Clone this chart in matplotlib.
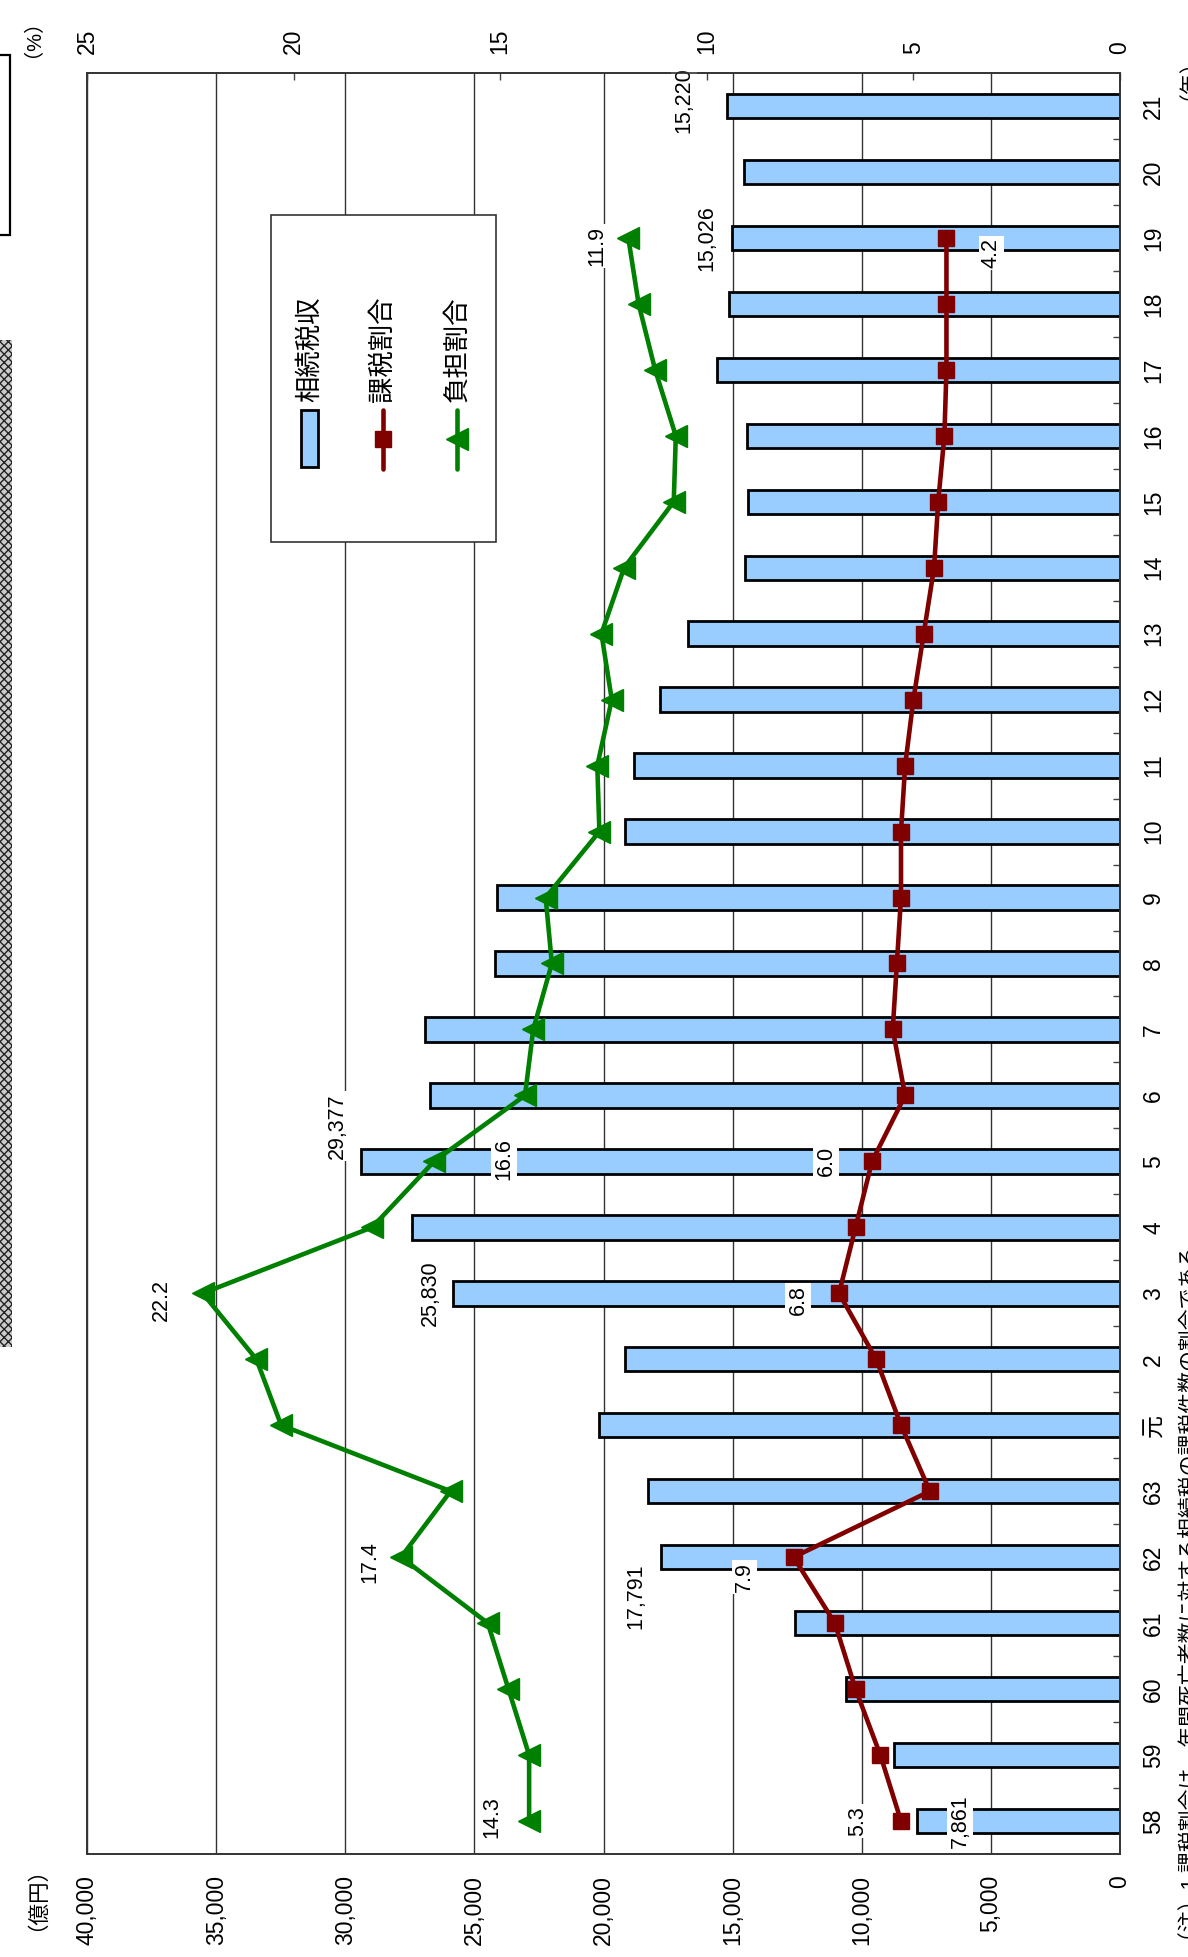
import matplotlib
matplotlib.use('Agg')
import matplotlib.pyplot as plt
from matplotlib.patches import Rectangle
from matplotlib.lines import Line2D
import numpy as np

plt.rcParams['font.family'] = ['Liberation Sans', 'Noto Sans CJK JP']
plt.rcParams['hatch.linewidth'] = 1.0

# ---------------- data ----------------
years = ['58', '59', '60', '61', '62', '63', '元', '2', '3', '4', '5', '6', '7', '8',
         '9', '10', '11', '12', '13', '14', '15', '16', '17', '18', '19', '20', '21']
tax_revenue = [7861, 8750, 10600, 12580, 17791, 18280, 20170, 19180, 25830, 27420,
               29377, 26700, 26900, 24190, 24130, 19160, 18800, 17800, 16740, 14510,
               14410, 14460, 15620, 15140, 15026, 14560, 15220]
taxable_ratio = [5.3, 5.8, 6.4, 6.9, 7.9, 4.6, 5.3, 5.9, 6.8, 6.4, 6.0, 5.2, 5.5, 5.4,
                 5.3, 5.3, 5.2, 5.0, 4.75, 4.5, 4.4, 4.25, 4.2, 4.2, 4.2]
burden_ratio = [14.3, 14.3, 14.8, 15.3, 17.4, 16.2, 20.3, 20.9, 22.2, 18.1, 16.6, 14.4,
                14.2, 13.75, 13.9, 12.6, 12.65, 12.3, 12.55, 12.0, 10.8, 10.75, 11.25,
                11.65, 11.9]
oku_ticks = [0, 5000, 10000, 15000, 20000, 25000, 30000, 35000, 40000]
pct_ticks = [0, 5, 10, 15, 20, 25]
legend_labels = ['相続税収', '課税割合', '負担割合']

# labels: (index, text, dx_px, dy_px(down))
bar_labels = [(0, '7,861', 43, 0), (4, '17,791', -25, 39), (8, '25,830', -23, 0),
              (10, '29,377', -24, -35), (24, '15,026', -25, 0), (26, '15,220', -43, -6)]
red_labels = [(0, '5.3', -43, 0), (4, '7.9', -49, 20), (8, '6.8', -41, 7),
              (10, '6.0', -46, 0), (24, '4.2', 45, 15)]
green_labels = [(0, '14.3', -37, -4), (4, '17.4', -31, 5), (8, '22.2', -41, 7),
                (10, '16.6', 70, -2), (24, '11.9', -31, 8)]

BAR_C = '#99CCFF'
RED = '#800000'
GREEN = '#008000'
TICK_FS = 16.5
LW = 3.3

W, H = 1188, 1957
fig = plt.figure(figsize=(W / 100, H / 100), dpi=100)
L, R, T, B = 87, 1120, 73, 1854
ax = fig.add_axes([L / W, 1 - B / H, (R - L) / W, (B - T) / H])

idx = np.arange(len(years))
ax.barh(idx, tax_revenue, height=0.37, color=BAR_C, edgecolor='black',
        linewidth=2.0, zorder=2)
ax.set_xlim(40000, 0)
ax.set_ylim(-0.5, len(years) - 0.5)
ax.set_xticks(oku_ticks)
ax.set_xticklabels([f'{v:,}' for v in oku_ticks], rotation=90)
ax.tick_params(axis='x', length=0, pad=15, labelsize=TICK_FS)
ax.grid(axis='x', color='#333333', linewidth=1.0)
ax.set_axisbelow(True)

ax.yaxis.tick_right()
ax.set_yticks(idx)
ax.set_yticklabels(years, rotation=90, va='center')
ax.tick_params(axis='y', which='major', length=0, pad=16, labelsize=TICK_FS)
ax.set_yticks(idx[:-1] + 0.5, minor=True)
ax.tick_params(axis='y', which='minor', direction='in', length=5, width=1,
               right=True, left=False, color='#444444')

ax2 = ax.twiny()
ax2.set_xlim(25, 0)
ax2.set_ylim(-0.5, len(years) - 0.5)
ax2.set_xticks(pct_ticks)
ax2.set_xticklabels([str(v) for v in pct_ticks], rotation=90)
ax2.tick_params(axis='x', direction='in', length=5, width=1, pad=14,
                labelsize=TICK_FS, color='#444444')

n = len(taxable_ratio)
ax2.plot(taxable_ratio, idx[:n], color=RED, lw=LW, marker='s', ms=11, zorder=3)
ax2.plot(burden_ratio, idx[:n], color=GREEN, lw=LW, marker='<', ms=16, zorder=3)

for a in (ax, ax2):
    for s in a.spines.values():
        s.set_color('#333333')
        s.set_linewidth(1.2)

lab_kw = dict(textcoords='offset pixels', rotation=90, ha='center', va='center',
              fontsize=15.5, zorder=5,
              bbox=dict(facecolor='white', edgecolor='none', pad=1.5))
for i, t, dx, dy in bar_labels:
    ax.annotate(t, xy=(tax_revenue[i], i), xytext=(dx, -dy), **lab_kw)
for i, t, dx, dy in red_labels:
    ax2.annotate(t, xy=(taxable_ratio[i], i), xytext=(dx, -dy), **lab_kw)
for i, t, dx, dy in green_labels:
    ax2.annotate(t, xy=(burden_ratio[i], i), xytext=(dx, -dy), **lab_kw)


def fx(x):
    return x / W


def fy(y):
    return 1 - y / H


# legend (drawn manually, rotated)
fig.add_artist(Rectangle((fx(271), fy(542)), (496 - 271) / W, (542 - 215) / H,
                         transform=fig.transFigure, facecolor='white',
                         edgecolor='#333333', linewidth=1.2, zorder=10))
fig.add_artist(Rectangle((fx(301), fy(467)), 17 / W, 57 / H, transform=fig.transFigure,
                         facecolor=BAR_C, edgecolor='black', linewidth=2.0, zorder=11))
fig.add_artist(Line2D([fx(383), fx(383)], [fy(410), fy(469)], transform=fig.transFigure,
                      color=RED, lw=LW, zorder=11, solid_capstyle='round'))
fig.add_artist(Line2D([fx(383)], [fy(439)], transform=fig.transFigure, color=RED,
                      marker='s', ms=11, zorder=12))
fig.add_artist(Line2D([fx(457), fx(457)], [fy(410), fy(469)], transform=fig.transFigure,
                      color=GREEN, lw=LW, zorder=11, solid_capstyle='round'))
fig.add_artist(Line2D([fx(457)], [fy(439)], transform=fig.transFigure, color=GREEN,
                      marker='<', ms=16, zorder=12))
for xx, t in zip([310, 383, 457], legend_labels):
    fig.text(fx(xx), fy(402), t, rotation=90, ha='center', va='bottom', fontsize=19,
             zorder=12)

# unit labels
fig.text(fx(22), fy(28), '（%）', rotation=90, ha='center', va='center', fontsize=14.5)
fig.text(fx(1178), fy(69), '（年）', rotation=90, ha='center', va='center', fontsize=15)
fig.text(fx(27), fy(1888), '（億円）', rotation=90, ha='center', va='center', fontsize=15.5)

# footnote (cut by the right edge, as in the source image)
fig.text(fx(1190), fy(1952),
         '（注）1 課税割合は、年間死亡者数に対する相続税の課税件数の割合である。',
         rotation=90, ha='center', va='bottom', fontsize=15)

# decorations at the left edge
fig.add_artist(Rectangle((fx(0), fy(1347)), 12 / W, (1347 - 340) / H,
                         transform=fig.transFigure, facecolor='#cccccc',
                         edgecolor='#222222', hatch='xxxx', linewidth=0))
fig.add_artist(Rectangle((fx(-5), fy(235)), 15 / W, 180 / H, transform=fig.transFigure,
                         facecolor='none', edgecolor='black', linewidth=1.6))

fig.savefig('out.png', dpi=100)
